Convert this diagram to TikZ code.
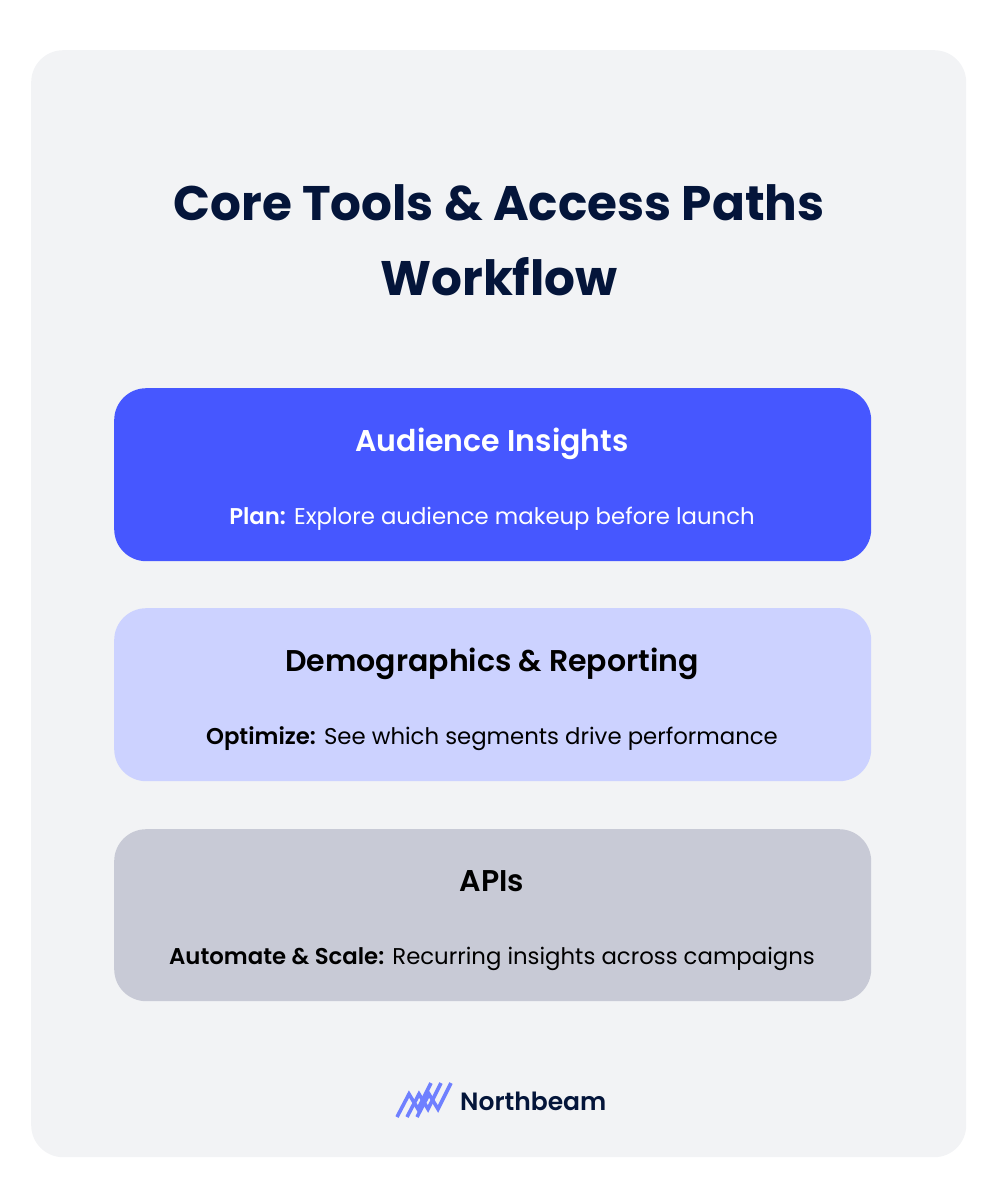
\documentclass[tikz,border=0pt]{standalone}
\usepackage{fontspec}
\setmainfont{Poppins}[BoldFont={Poppins SemiBold}]
\newfontfamily\titlefont{Poppins Bold}
\definecolor{panel}{HTML}{F2F3F5}
\definecolor{navy}{HTML}{04153A}
\definecolor{cardA}{HTML}{4657FF}
\definecolor{cardB}{HTML}{CCD2FF}
\definecolor{cardC}{HTML}{C8CAD6}
\definecolor{logo}{HTML}{6F80FF}
\tikzset{
 card/.style={rounded corners=32pt,minimum width=757pt,inner sep=0pt,anchor=north west},
 headtxt/.style={font=\fontsize{30}{34}\selectfont\bfseries,anchor=base},
 subtxt/.style={font=\fontsize{22.8}{26}\selectfont,anchor=base},
 logoline/.style={draw=logo,line width=3.6pt,line join=miter}
}
\begin{document}
\begin{tikzpicture}[x=1pt,y=-1pt]
\useasboundingbox (0,0) rectangle (1000,1200);
\node[fill=panel,rounded corners=32pt,minimum width=935pt,minimum height=1107pt,inner sep=0pt,anchor=north west] (panel) at (31,50) {};
\node[font=\fontsize{48.5}{52}\selectfont\titlefont,color=navy,anchor=center] (title1) at (499,203) {Core Tools \& Access Paths};
\node[font=\fontsize{48.5}{52}\selectfont\titlefont,color=navy,anchor=center] (title2) at (499,277) {Workflow};
\node[card,minimum height=173pt,fill=cardA] (a) at (114,388) {};
\node[card,minimum height=173pt,fill=cardB] (b) at (114,608) {};
\node[card,minimum height=172pt,fill=cardC] (c) at (114,829) {};
\node[headtxt,white] (ah) at (492,451) {Audience Insights};
\node[subtxt,white] (as) at (492,524) {\textbf{Plan:} Explore audience makeup before launch};
\node[headtxt,black] (bh) at (492,671) {Demographics \& Reporting};
\node[subtxt,black] (bs) at (492,744) {\textbf{Optimize:} See which segments drive performance};
\node[headtxt,black] (ch) at (492,891) {APIs};
\node[subtxt,black] (cs) at (492,964) {\textbf{Automate \& Scale:} Recurring insights across campaigns};
\draw[logoline] (397,1117) -- (409,1094) -- (418,1109) -- (431,1083);
\draw[logoline] (407,1117) -- (419,1094) -- (428,1109) -- (441,1083);
\draw[logoline] (417,1117) -- (429,1094) -- (438,1109) -- (451,1083);
\node[font=\fontsize{25}{28}\selectfont\bfseries,color=navy,anchor=west,inner sep=0pt] (brand) at (460,1101) {Northbeam};
\end{tikzpicture}
\end{document}
